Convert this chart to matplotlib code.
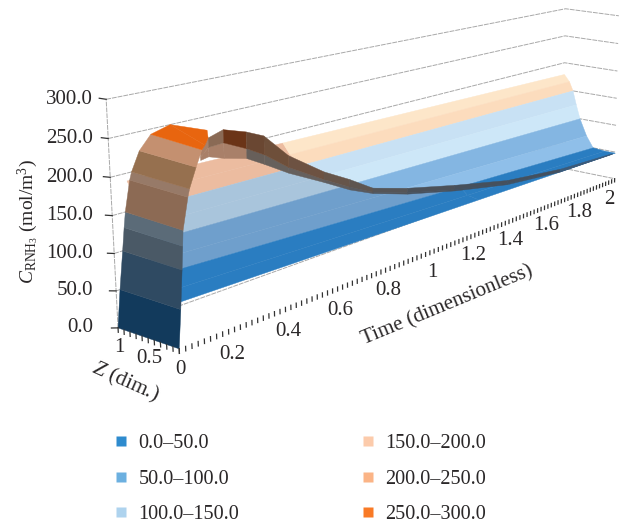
import numpy as np
import matplotlib
matplotlib.use('Agg')
import matplotlib.pyplot as plt
from matplotlib.lines import Line2D
from mpl_toolkits.mplot3d.art3d import Poly3DCollection

W, H = 624, 526
plt.rcParams['font.family'] = ['Liberation Serif', 'DejaVu Serif']
plt.rcParams['mathtext.fontset'] = 'custom'
plt.rcParams['mathtext.rm'] = 'Liberation Serif'
plt.rcParams['mathtext.it'] = 'Liberation Serif:italic'
text_color = '#2a2728'

# axes
c_ticks = [0, 50, 100, 150, 200, 250, 300]
c_labels = ['0.0', '50.0', '100.0', '150.0', '200.0', '250.0', '300.0']
time_ticks = [0.2, 0.4, 0.6, 0.8, 1, 1.2, 1.4, 1.6, 1.8, 2]
time_labels = ['0.2', '0.4', '0.6', '0.8', '1', '1.2', '1.4', '1.6', '1.8', '2']
z_ticks = [0, 0.5, 1]
z_labels = ['0', '0.5', '1']

# main sheet: profile across Z at t=0 and t=2, one strip between neighbours
sheet_z = [0, 0.2, 0.42, 0.55, 0.683, 0.76, 0.828, 0.9, 1.0]
sheet_c_start = [60, 68, 82, 96, 116, 135, 155, 173, 190]
sheet_c_end = [48, 48, 50, 70, 100, 125, 150, 166, 178]
strip_start_t = [0.012, 0.012, 0.02, 0.025, 0.03, 0.035, 0.04, 0.05]
# colours change where the ribbon crosses the sheet
sheet_switch_t = [1.2, 1.2, 1.226, 0.97, 0.783, 0.698, 0.626, 0.593, 0.589]
strip_near = ['#2a7dc1', '#2a7dc1', '#6f9fcc', '#6f9fcc', '#a9c5dc', '#a9c5dc', '#ecbca0', '#ecbca0']
strip_far = ['#2a7dc1', '#2a7dc1', '#8fbfe9', '#84b6e2', '#cde7f8', '#c8e1f4', '#fcdcbd', '#fde6c9']

# steep front wall: time at which each level is reached at Z=0 and Z=1
wall_c_z0 = [0, 50, 100, 130, 150, 190, 200, 225, 245, 250, 258]
wall_t_z0 = [0, 0.01, 0.019, 0.024, 0.027, 0.046, 0.052, 0.075, 0.095, 0.105, 0.116]
wall_c_z1 = [0, 50, 100, 130, 150, 190, 200, 225, 243, 250, 231]
wall_t_z1 = [0, 0.012, 0.026, 0.034, 0.04, 0.058, 0.065, 0.092, 0.13, 0.193, 0.315]
wall_colors = ['#123a5c', '#2f4a62', '#4a5966', '#5b6b78', '#8c6a54', '#977a68',
               '#96704f', '#c49070', '#e8650f', '#e8650f']

# dark ribbon along the front edge
ribbon_t = [0.09, 0.116, 0.165, 0.24, 0.30, 0.385, 0.515, 0.616, 0.71, 0.86, 1.08, 1.35, 1.65, 1.98]
ribbon_top = [242, 258, 264, 254, 243, 208, 172, 150, 127, 110, 90, 68, 55, 49]
ribbon_mid = [236, 246, 247, 232, 218, 192, 161, 139, 121, 103, 83, 63, 51, 48]
ribbon_bot = [232, 234, 227, 219, 205, 184, 157, 135, 119, 101, 81, 61, 50, 48]
ribbon_colors_top = ['#a98069', '#8a6a55', '#6b3417', '#6a4732', '#6e4f3a', '#6d5242', '#66554a',
                     '#5e5550', '#555558', '#4b5159', '#46505c', '#44505e', '#3d5a78']
ribbon_colors_bot = ['#a98069', '#a98069', '#a98069', '#675f5a', '#66605c', '#65605e', '#5f5d5e',
                     '#585a60', '#50555c', '#48525e', '#44505e', '#3f5468', '#3d5a78']

legend_labels = ['0.0–50.0', '50.0–100.0', '100.0–150.0', '150.0–200.0', '200.0–250.0', '250.0–300.0']
legend_colors = ['#2e8bce', '#6cb0e0', '#aed3ee', '#fccbab', '#fbb486', '#f97a26']

# where the box corners sit in the picture
corner_world = [[0, 0, 0], [0, 1, 0], [2, 0, 0], [2, 1, 0], [0, 1, 300], [2, 1, 300], [2, 0, 300],
                [0, 1, 150], [2, 1, 150], [2, 0, 150], [0, 1, 50], [0, 1, 250], [2, 0, 50], [2, 1, 250]]
corner_px = [[180, 350], [117, 327], [613, 178], [567, 168], [107, 99], [566, 9], [621, 15],
             [112, 216], [562, 90], [617, 98], [116, 290], [108, 139], [614, 153], [563, 36]]

rows = []
for (a, b, c), (u, v) in zip(corner_world, corner_px):
    rows.append([a, b, c, 1, 0, 0, 0, 0, -u*a, -u*b, -u*c, -u])
    rows.append([0, 0, 0, 0, a, b, c, 1, -v*a, -v*b, -v*c, -v])
P = np.linalg.svd(np.array(rows, float))[2][-1].reshape(3, 4)
P = P / P[2, 3]

fig = plt.figure(figsize=(W/100, H/100), dpi=100, facecolor='w')
ax = fig.add_axes([0, (H - W) / 2 / H, 1, W / H], projection='3d', computed_zorder=False)
ax.set_axis_off()
ax.set_proj_type('ortho')  # only so that lines are not clipped


def get_proj():
    # picture pixels -> the 2d data coordinates of the axes
    inv = ax.transData.inverted()
    p0 = inv.transform((0, H))
    p1 = inv.transform((1, H - 1))
    sx, sy = p1 - p0
    M = np.zeros((4, 4))
    M[0] = sx * P[0] + p0[0] * P[2]
    M[1] = sy * P[1] + p0[1] * P[2]
    M[2] = [0.1, 0.2, -0.0005, 1]
    M[3] = P[2]
    return M


ax.get_proj = get_proj


def fig_xy(t, z, c):
    h = P @ np.array([t, z, c, 1])
    return h[0] / h[2] / W, 1 - h[1] / h[2] / H


def add_polys(verts, colors, zorder):
    col = Poly3DCollection(verts, facecolors=colors, edgecolors=colors, linewidths=0.3)
    col.set_zorder(zorder)
    ax.add_collection3d(col, autolim=False)


def sheet_pt(i, t):
    c = sheet_c_start[i] + (sheet_c_end[i] - sheet_c_start[i]) * t / 2
    return (t, sheet_z[i], c)


# gridlines on the walls
grid = dict(color='#a8a8a8', lw=0.7, ls=(0, (5, 1)), zorder=1)
for c in c_ticks:
    ax.plot([0, 2, 2], [1, 1, 0], [c, c, c], **grid)
ax.plot([0, 0], [1, 1], [0, 300], **grid)

# sheet
verts, colors = [], []
for i in range(len(sheet_z) - 1):
    t0 = strip_start_t[i]
    s0, s1 = sheet_switch_t[i], sheet_switch_t[i+1]
    verts.append([sheet_pt(i, t0), sheet_pt(i, s0), sheet_pt(i+1, s1), sheet_pt(i+1, t0)])
    colors.append(strip_near[i])
    verts.append([sheet_pt(i, s0), sheet_pt(i, 2), sheet_pt(i+1, 2), sheet_pt(i+1, s1)])
    colors.append(strip_far[i])
add_polys(verts, colors, 2)

# ribbon
verts, colors = [], []
for i in range(len(ribbon_t) - 1):
    t0, t1 = ribbon_t[i], ribbon_t[i+1]
    verts.append([(t0, 0, ribbon_top[i]), (t1, 0, ribbon_top[i+1]), (t1, 0, ribbon_mid[i+1]), (t0, 0, ribbon_mid[i])])
    colors.append(ribbon_colors_top[i])
    verts.append([(t0, 0, ribbon_mid[i]), (t1, 0, ribbon_mid[i+1]), (t1, 0, ribbon_bot[i+1]), (t0, 0, ribbon_bot[i])])
    colors.append(ribbon_colors_bot[i])
add_polys(verts, colors, 3)

# front wall
verts, colors = [], []
for i in range(len(wall_c_z0) - 1):
    verts.append([(wall_t_z0[i], 0, wall_c_z0[i]), (wall_t_z1[i], 1, wall_c_z1[i]),
                  (wall_t_z1[i+1], 1, wall_c_z1[i+1]), (wall_t_z0[i+1], 0, wall_c_z0[i+1])])
    colors.append(wall_colors[i])
add_polys(verts, colors, 4)

# ticks
tick = dict(color='#333333', lw=0.9, zorder=5)
for t in np.arange(0, 2.001, 0.02):
    ax.plot([t, t], [0, 0], [0, -6], **tick)
for z in np.arange(0, 1.001, 0.1):
    ax.plot([0, 0], [z, z], [0, -6], **tick)
for c in c_ticks:
    ax.plot([0, -0.02], [1, 1], [c, c + 3], **tick)

for t, s in zip(time_ticks, time_labels):
    x, y = fig_xy(t - 0.03, 0, -36)
    fig.text(x, y, s, ha='center', va='center', fontsize=15, color=text_color)
for z, s in zip(z_ticks, z_labels):
    x, y = fig_xy(0, z, -27)
    fig.text(x, y, s, ha='center', va='center', fontsize=15, color=text_color)
for c, s in zip(c_ticks, c_labels):
    y = fig_xy(0, 1, c)[1]
    fig.text(93 / W, y, s, ha='right', va='center', fontsize=15, color=text_color)

fig.text(447 / W, 1 - 306 / H, 'Time (dimensionless)', rotation=22.4, rotation_mode='anchor',
         ha='center', va='center', fontsize=15.2, color=text_color)
fig.text(125 / W, 1 - 382 / H, r'$\mathit{Z}$ (dim.)', rotation=-24, rotation_mode='anchor',
         ha='center', va='center', fontsize=15.5, color=text_color)
fig.text(28 / W, 1 - 222 / H, r'$\mathit{C}_{\mathrm{RNH}_3}$ (mol/m$^3$)', rotation=90,
         ha='center', va='center', fontsize=14, color=text_color)

handles = [Line2D([], [], ls='none', marker='s', ms=6.5, mec='none', color=c) for c in legend_colors]
fig.legend(handles, legend_labels, ncols=2, loc='upper left', bbox_to_anchor=(111 / W, 1 - 434 / H),
           frameon=False, fontsize=14.6, labelcolor=text_color, labelspacing=0.8, columnspacing=5.87,
           handlelength=1, handletextpad=0.35, borderpad=0, borderaxespad=0)

fig.savefig('out.png', dpi=100)
